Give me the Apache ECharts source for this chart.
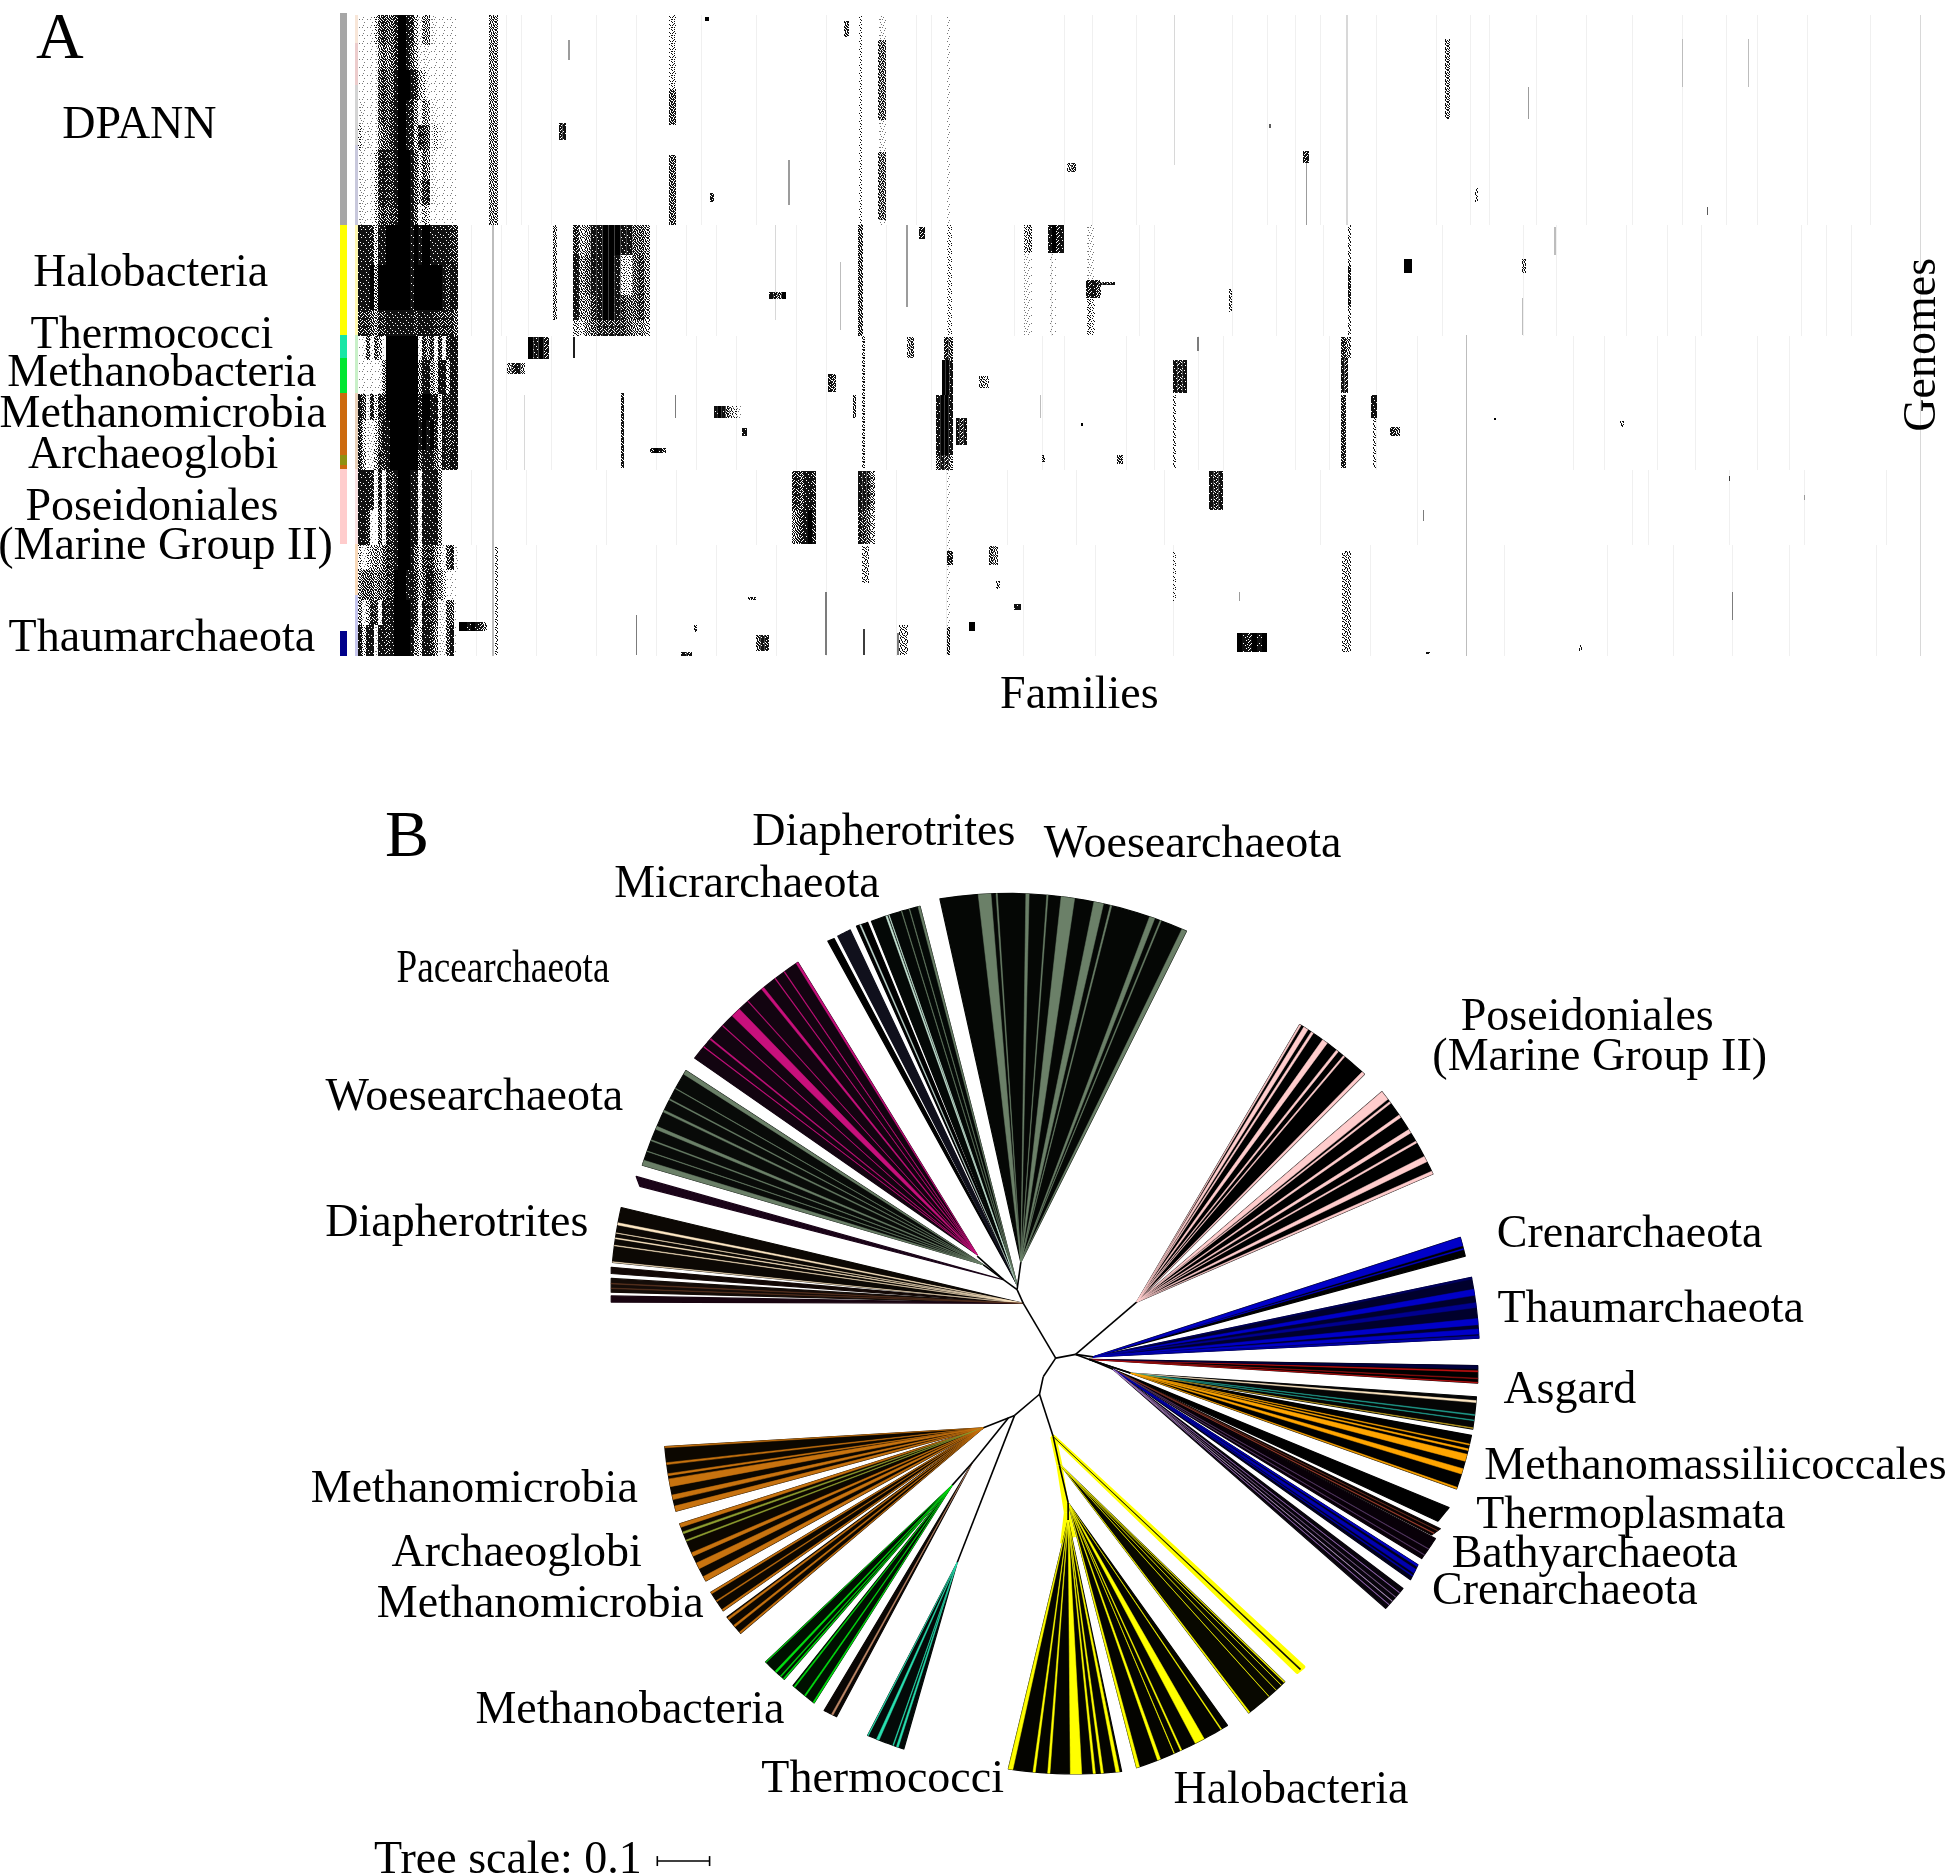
<!DOCTYPE html>
<html>
<head>
<meta charset="utf-8">
<title>Archaea families and tree</title>
<style>
html, body { margin: 0; padding: 0; background: #fff; }
#chart { width: 1952px; height: 1876px; }
</style>
<script src="https://cdn.jsdelivr.net/npm/echarts@6/dist/echarts.min.js"></script>
</head>
<body>
<div id="chart"></div>
<script>
// ---------- panel A: presence of families (x) in genomes (y) ----------
// darkness 0..9: share of black pixels in a patch, and the grey used for hair-thin streaks
const levelShare = [0, .05, .12, .22, .35, .48, .62, .78, .92, 1]
const levelColors = ['#ffffff', '#f0f0f0', '#d8d8d8', '#bdbdbd', '#9c9c9c', '#7c7c7c', '#5c5c5c', '#3c3c3c', '#1e1e1e', '#000000']
// fixed order in which a patch's pixels turn black
const grainOrder = [
  37, 5, 58, 21, 44, 12, 62, 29,
  14, 52, 31, 2, 55, 26, 8, 47,
  60, 23, 41, 17, 35, 50, 19, 39,
  7, 34, 1, 63, 10, 28, 57, 3,
  46, 18, 54, 25, 42, 6, 33, 53,
  30, 61, 9, 38, 16, 59, 22, 11,
  4, 43, 27, 49, 0, 36, 45, 24,
  56, 20, 13, 32, 40, 15, 48, 35
]

// [genome from, genome to, colour]
const genomeBars = [
  [-2, 210, '#a6a6a6'], [210, 320, '#ffff00'], [320, 343, '#19e6a5'], [343, 378, '#00e632'],
  [378, 440, '#cc6a0e'], [440, 450, '#8f9010'], [450, 454, '#cc6a0e'], [454, 529, '#ffcccc'], [616, 641, '#00008b']
]
const genomeStrip = [
  [0, 28, '#f8e6d8'], [28, 70, '#eccccc'], [70, 130, '#d4d4d4'], [130, 210, '#c8c8dc'], [210, 320, '#fff8b0'],
  [320, 378, '#c8f0c8'], [378, 454, '#e8d0b8'], [454, 529, '#f8e0e0'], [529, 580, '#f8d8b8'], [580, 641, '#c4c4ec']
]

// core families: 25 columns of 4 families each, from family 2
const coreRows = [
  [0, 30], [30, 55], [55, 85], [85, 110], [110, 135], [135, 165], [165, 190], [190, 210],
  [210, 250], [250, 295], [295, 321], [321, 345], [345, 379], [379, 405], [405, 435], [435, 455],
  [455, 495], [495, 530], [530, 555], [555, 585], [585, 610], [610, 641]
]
const coreLevels = [
  '1111367667998742552111111', '1111256567998642221111111', '1111267668999874321111111', '2111267678998752542211111',
  '3221256678998747762322111', '2111378778999863652111111', '2211378778999864772211111', '2211367677999862431111111',
  '8887388999999898998888877', '8889599999999899999998788', '7776577888888878888777776', '1261641999999992757272788',
  '1111125999999995885388488', '8627377999999997998838788', '7322368899999998989738778', '7422477899999996888648788',
  '8887272778999882888850000', '8871162778999882888850000', '3234546778999863777532672', '5666566779998874688653111',
  '5247728789999872877622661', '8388288789999853887522681'
]

// [family from, family to, genome from, genome to, darkness per column]
const familyBlocks = [
  [217, 294, 210, 240, '7458899988665'], [217, 294, 240, 280, '8568899833675'], [217, 294, 280, 305, '8557899876675'], [217, 294, 305, 321, '4356777776554'],
  [172, 193, 322, 344, '9897'], [151, 169, 348, 359, '5785'], [103, 131, 607, 616, '9989875'], [358, 385, 391, 403, '8986432'],
  [294, 310, 433, 438, '7986'], [386, 391, 413, 421, '8'], [436, 460, 456, 495, '776887'], [436, 460, 495, 529, '567897'],
  [502, 519, 456, 495, '8875'], [502, 519, 495, 529, '7764'], [580, 597, 380, 440, '8998'], [580, 597, 440, 455, '6875'],
  [586, 597, 345, 380, '998'], [600, 611, 403, 430, '878'], [588, 597, 322, 345, '76'], [413, 430, 277, 284, '8769'],
  [325, 336, 637, 641, '87'], [400, 413, 620, 636, '687'], [203, 210, 108, 125, '78'], [354, 358, 178, 187, '7'],
  [349, 353, 2, 6, '9'], [488, 493, 6, 22, '6'], [472, 480, 359, 377, '76'], [551, 558, 322, 343, '56'],
  [613, 619, 607, 616, '9'], [692, 708, 210, 238, '8978'], [668, 676, 210, 238, '45'], [730, 745, 265, 283, '786'],
  [730, 759, 267, 270, '8787878'], [731, 739, 283, 320, '43'], [711, 720, 148, 157, '56'], [947, 953, 136, 148, '7'],
  [1089, 1094, 24, 104, '5'], [1119, 1122, 173, 187, '4'], [1048, 1056, 244, 258, '9'], [1166, 1170, 244, 258, '5'],
  [817, 831, 345, 378, '878'], [985, 995, 322, 343, '75'], [985, 992, 343, 378, '87'], [985, 990, 380, 453, '7'],
  [1015, 1021, 380, 403, '8'], [1034, 1044, 412, 421, '76'], [853, 867, 456, 495, '878'], [881, 911, 618, 637, '987989'],
  [633, 642, 531, 550, '65'], [658, 665, 589, 595, '8'], [623, 633, 361, 373, '54'], [686, 689, 440, 447, '6'],
  [761, 767, 440, 449, '6'], [563, 569, 212, 224, '7'], [1264, 1268, 406, 412, '5'], [1138, 1140, 403, 405, '9'],
  [725, 727, 408, 411, '9'], [913, 915, 109, 113, '6'], [1070, 1074, 637, 639, '8'], [1223, 1226, 630, 636, '5'],
  [338, 341, 610, 617, '6'], [392, 400, 582, 585, '6'], [543, 552, 610, 640, '4'], [640, 644, 566, 574, '5']
]
// [family, width, genome from, genome to, darkness]
const familyStreaks = [
  [133, 9, 0, 210, 5], [313, 7, 0, 75, 3], [313, 7, 75, 110, 6], [313, 7, 140, 210, 6], [522, 8, 25, 105, 6],
  [522, 8, 137, 205, 6], [522, 8, 0, 210, 2], [503, 3, 0, 210, 3], [432, 2, 145, 190, 4], [502, 5, 210, 321, 6],
  [591, 4, 0, 210, 2], [591, 5, 210, 321, 3], [591, 3, 455, 641, 2], [212, 2, 25, 45, 4], [197, 4, 210, 305, 5],
  [136, 2, 210, 641, 3], [265, 3, 378, 453, 7], [319, 1, 380, 403, 5], [497, 3, 380, 403, 6], [506, 3, 321, 453, 5],
  [506, 7, 531, 568, 4], [591, 6, 536, 550, 7], [591, 3, 612, 640, 6], [507, 2, 614, 640, 7], [469, 2, 577, 640, 5],
  [280, 1, 600, 640, 5], [139, 3, 531, 640, 4], [550, 2, 210, 292, 4], [484, 1, 247, 315, 3], [419, 1, 210, 305, 2],
  [217, 2, 322, 343, 8], [541, 2, 618, 640, 5], [168, 1, 380, 455, 2], [668, 8, 238, 320, 2], [692, 8, 238, 320, 1],
  [731, 8, 210, 265, 2], [950, 1, 148, 210, 4], [1172, 1, 72, 104, 4], [992, 3, 210, 320, 4], [992, 3, 250, 292, 7],
  [817, 3, 380, 453, 4], [873, 3, 274, 297, 5], [818, 1, 0, 150, 2], [990, 2, 0, 210, 2], [1110, 1, 320, 641, 3],
  [986, 9, 536, 637, 4], [1017, 3, 403, 453, 4], [684, 1, 380, 403, 3], [817, 3, 536, 586, 3], [883, 1, 577, 586, 4],
  [841, 2, 322, 336, 5], [1376, 1, 577, 605, 5], [1326, 1, 24, 72, 3], [1392, 1, 24, 72, 3], [1067, 1, 495, 506, 5],
  [1166, 1, 283, 320, 3], [1198, 2, 212, 240, 3], [1448, 1, 480, 485, 4], [1373, 1, 461, 466, 7], [1351, 1, 192, 200, 6],
  [1564, 1, 0, 641, 2]
]
// faint single columns: [genome from, genome to, families]
const faintBands = [
  [0, 210, [150, 165, 195, 240, 280, 345, 400, 470, 560, 575, 708, 736, 780, 876, 911, 939, 964, 1020, 1080, 1114, 1133, 1180, 1230, 1276, 1326, 1370, 1401, 1451, 1514]],
  [210, 321, [115, 145, 172, 300, 330, 360, 440, 470, 530, 575, 658, 695, 783, 798, 876, 920, 939, 967, 1020, 1086, 1167, 1200, 1270, 1311, 1345, 1445, 1470, 1495]],
  [321, 455, [150, 195, 240, 300, 340, 380, 440, 470, 530, 575, 686, 708, 770, 798, 842, 867, 939, 973, 1020, 1061, 1110, 1217, 1248, 1301, 1339, 1401, 1433]],
  [455, 530, [115, 170, 250, 320, 400, 470, 540, 590, 651, 720, 808, 964, 1061, 1276, 1292, 1373, 1448, 1530]],
  [530, 641, [120, 180, 240, 300, 360, 420, 470, 540, 590, 667, 739, 817, 1014, 1110, 1148, 1251, 1317, 1376, 1433, 1520]]
]

// ---------- panel B: tree, in a layout scale of 1568 x 1507 ----------
const treeHub = [838, 1073]
const branchFrom = [
  [848, 1091], [848, 1091], [864, 1088], [864, 1088], [864, 1088], [875, 1092], [848, 1091], [838, 1106],
  [835, 1120], [835, 1120], [815, 1137], [815, 1137], [810, 1139], [781, 1175], [846, 1154], [851, 1177],
  [858, 1207], [822, 1047], [817, 1036], [817, 1036], [806, 1028], [806, 1028], [875, 1092], [875, 1092]
]
const branchTo = [
  [864, 1088], [822, 1047], [913, 1046], [878, 1090], [875, 1092], [908, 1103], [838, 1106], [835, 1120],
  [815, 1137], [846, 1154], [790, 1147], [769, 1255], [781, 1175], [765, 1193], [851, 1177], [858, 1207],
  [858, 1221], [817, 1036], [820, 1014], [806, 1028], [785, 1009], [790, 1016], [894, 1100], [908, 1103]
]
// yellow band under the Halobacteria stem
const haloFrom = [[846, 1154], [851, 1177], [857, 1215], [857, 1215]]
const haloTo = [[851, 1177], [857, 1215], [854, 1240], [862, 1235]]
const wedgeApex = [
  [820, 1014], [817, 1032], [817, 1032], [817, 1032], [817, 1032], [785, 1008], [790, 1016], [806, 1028],
  [822, 1047], [822, 1047], [822, 1047], [822, 1047],
  [913, 1046], [913, 1046], [878, 1090], [878, 1090], [875, 1092], [908, 1103], [908, 1103],
  [894, 1100], [894, 1100], [894, 1100], [894, 1100], [894, 1100],
  [846, 1154], [852, 1177], [858, 1207], [858, 1221], [769, 1255], [765, 1193], [765, 1193], [781, 1175],
  [790, 1147], [790, 1147], [790, 1147], [790, 1147]
]
const wedgeTipA = [
  [755, 722], [665, 756], [673, 752], [688, 744], [700, 740], [558, 850], [516, 936], [511, 945],
  [492, 1014], [491, 1018], [491, 1027], [491, 1041],
  [1044, 823], [1110, 877], [1173, 994], [1182, 1026], [1187, 1097], [1186, 1122], [1182, 1153],
  [1164, 1211], [1157, 1228], [1153, 1236], [1139, 1257], [1127, 1276],
  [1042, 1343], [1032, 1351], [986, 1386], [901, 1423], [726, 1405], [615, 1335], [637, 1354], [662, 1374],
  [534, 1162], [546, 1224], [571, 1279], [584, 1299]
]
const wedgeTipB = [
  [953, 748], [670, 754], [683, 747], [697, 741], [739, 728], [641, 773], [551, 860], [514, 953],
  [499, 970], [491, 1023], [491, 1038], [491, 1046],
  [1096, 863], [1151, 943], [1177, 1009], [1188, 1075], [1187, 1111], [1183, 1148], [1170, 1196],
  [1155, 1222], [1150, 1233], [1142, 1252], [1133, 1269], [1113, 1292],
  [1047, 1339], [1003, 1376], [913, 1420], [810, 1421], [697, 1394], [630, 1349], [654, 1368], [672, 1379],
  [543, 1214], [567, 1270], [581, 1294], [595, 1312]
]
const wedgeBase = [
  '#050705', '#000000', '#10101c', '#000000', '#040806', '#120410', '#080a08', '#1a0418',
  '#0c0804', '#120806', '#140c08', '#180410',
  '#000000', '#000000', '#000000', '#00002c', '#000000', '#050505', '#000000',
  '#000000', '#0a0202', '#080008', '#00001a', '#08040c',
  '#ffff00', '#080800', '#040400', '#040400', '#040a08', '#001000', '#001000', '#0a0604',
  '#0c0700', '#0c0700', '#0c0700', '#0c0700'
]
// stripes: [wedge, from, to, colour], from/to are parts of the wedge's arc
const sage = '#6b8068', magenta = '#c8107c', cream = '#ffe8c4', pink = '#ffcccc', blue = '#0000c8', amber = '#ffa500', yellow = '#ffff00', brown = '#c8730f', leaf = '#00e010', teal = '#29e0b0'
const stripes = [
  [0, .15, .2, sage], [0, .337, .35, sage], [0, .477, .531, sage], [0, .609, .648, sage], [0, .676, .682, sage], [0, .84, .862, sage], [0, .885, .89, sage], [0, .98, 1, sage], [0, .22, .225, sage], [0, .42, .425, sage],
  [3, .3, .4, '#c8e0d8'], [4, .3, .33, '#c8e8d8'], [4, .36, .37, '#c8e8d8'], [4, .62, .63, sage], [4, .78, .79, sage], [4, .96, 1, sage],
  [5, .4, .47, magenta], [5, .68, .7, magenta], [5, .17, .18, magenta], [5, .985, 1, magenta], [5, .1, .105, magenta], [5, .3, .305, magenta], [5, .55, .555, magenta], [5, .8, .805, magenta], [5, .88, .885, magenta],
  [6, 0, .05, sage], [6, .37, .4, sage], [6, .55, .57, sage], [6, .68, .69, sage], [6, .8, .805, sage], [6, .96, 1, sage], [6, .25, .26, sage], [6, .14, .145, sage],
  [8, .3, .31, cream], [8, .43, .445, cream], [8, .68, .72, cream], [8, 0, .01, cream], [8, .53, .535, cream],
  [10, .35, .4, '#5c3420'], [10, .7, .74, '#5c3420'],
  [12, 0, .02, pink], [12, .06, .12, pink], [12, .17, .2, pink], [12, .34, .41, pink], [12, .55, .58, pink], [12, .66, .68, pink], [12, .96, 1, pink],
  [13, 0, .1, pink], [13, .13, .15, pink], [13, .3, .33, pink], [13, .48, .52, pink], [13, .62, .64, pink], [13, .8, .86, pink], [13, .97, 1, pink],
  [14, 0, .45, blue], [14, .6, .65, blue],
  [15, 0, .03, '#000060'], [15, .2, .3, blue], [15, .42, .5, '#000090'], [15, .68, .78, blue], [15, .85, .93, blue], [15, .96, 1, '#0000a0'],
  [16, .3, .36, '#c01010'], [16, .72, .76, '#a01010'], [16, 0, .2, '#00003c'], [16, .96, 1, '#c01010'],
  [17, .12, .18, cream], [17, .55, .58, '#20a090'], [17, .72, .74, '#20a090'], [17, .96, .98, '#c0a020'],
  [18, .16, .18, amber], [18, .25, .28, amber], [18, .35, .48, amber], [18, .62, .72, amber], [18, .97, 1, amber],
  [20, .7, .76, '#a04030'], [20, .3, .33, '#703020'],
  [21, .5, .52, '#604070'], [21, .8, .82, '#604070'],
  [22, 0, .12, blue], [22, .3, .55, '#0000b0'], [22, .7, .76, '#0000a8'],
  [23, .2, .215, '#a070c0'], [23, .42, .435, '#806090'], [23, .62, .635, '#c0a0d0'], [23, .8, .815, '#a070c0'],
  [24, .42, .58, '#000000'],
  [25, 0, .02, yellow], [25, .1, .105, yellow], [25, .25, .255, yellow], [25, .45, .455, yellow], [25, .97, 1, yellow],
  [26, .27, .37, yellow], [26, .07, .08, yellow], [26, .52, .535, yellow], [26, .6, .605, yellow], [26, .75, .78, yellow], [26, .97, 1, yellow],
  [27, .02, .05, yellow], [27, .16, .18, yellow], [27, .23, .25, yellow], [27, .35, .45, yellow], [27, .63, .65, yellow], [27, .76, .78, yellow], [27, .96, 1, yellow],
  [28, .15, .2, teal], [28, .28, .3, teal], [28, .68, .75, teal], [28, .98, 1, teal],
  [29, 0, .03, leaf], [29, .52, .6, leaf], [29, .8, .84, leaf], [29, .95, 1, leaf],
  [30, .05, .1, leaf], [30, .55, .6, leaf], [30, .95, 1, leaf],
  [31, .6, .72, '#c08868'],
  [32, 0, .02, brown], [32, .25, .28, brown], [32, .42, .45, brown], [32, .5, .62, brown], [32, .75, .82, brown], [32, .92, 1, brown],
  [33, 0, .06, brown], [33, .14, .17, '#90a030'], [33, .28, .3, '#90a030'], [33, .5, .56, brown], [33, .68, .78, brown], [33, .92, 1, brown],
  [34, 0, .08, brown], [34, .92, 1, brown], [34, .45, .5, brown],
  [35, .05, .15, brown], [35, .5, .6, brown], [35, .92, 1, brown]
]
// [x, y]..[x, y] of the scale bar
const scaleBarFrom = [[528, 1495], [528, 1491], [570, 1491]]
const scaleBarTo = [[570, 1495], [528, 1499], [570, 1499]]

// ---------- text ----------
const labelText = [
  'A', 'DPANN', 'Halobacteria', 'Thermococci', 'Methanobacteria', 'Methanomicrobia', 'Archaeoglobi', 'Poseidoniales', '(Marine Group II)', 'Thaumarchaeota', 'Genomes', 'Families',
  'B', 'Diapherotrites', 'Woesearchaeota', 'Micrarchaeota', 'Pacearchaeota', 'Poseidoniales', '(Marine Group II)', 'Woesearchaeota', 'Diapherotrites', 'Crenarchaeota', 'Thaumarchaeota', 'Asgard',
  'Methanomassiliicoccales', 'Methanomicrobia', 'Thermoplasmata', 'Archaeoglobi', 'Bathyarchaeota', 'Crenarchaeota', 'Methanomicrobia', 'Methanobacteria', 'Thermococci', 'Halobacteria', 'Tree scale: 0.1'
]
const labelX = [48, 112, 121, 122, 130, 131, 123, 122, 133, 130, 1545, 867, 327, 710, 958, 600, 404, 1275, 1285, 381, 367, 1309, 1326, 1261, 1378, 381, 1310, 415, 1281, 1257, 434, 506, 709, 1037, 408]
const labelY = [33, 101, 220, 270, 300, 333, 366, 408, 439, 513, 277, 559, 674, 669, 679, 711, 779, 818, 850, 882, 983, 992, 1052, 1117, 1178, 1197, 1218, 1248, 1249, 1279, 1289, 1374, 1430, 1439, 1495]
const labelSize = [66, 46, 46, 46, 46, 46, 46, 46, 46, 46, 46, 46, 66, 46, 46, 46, 46, 46, 46, 46, 46, 46, 46, 46, 46, 46, 46, 46, 46, 46, 46, 46, 46, 46, 46]

// ---------- rows for the series ----------
const cellRows = []
function pushCells(f0, f1, g0, g1, levels) {
  const w = (f1 - f0) / levels.length
  for (let i = 0; i < levels.length; i++) {
    if (levels[i] !== '0') cellRows.push([f0 + i * w, f0 + (i + 1) * w, g0, g1, +levels[i]])
  }
}
faintBands.forEach(b => { b[2].forEach(f => pushCells(f, f + 1, b[0], b[1], '1')) })
familyStreaks.forEach(s => { pushCells(s[0], s[0] + s[1], s[2], s[3], String(s[4])) })
coreRows.forEach((r, i) => { pushCells(2, 102, r[0], r[1], coreLevels[i]) })
familyBlocks.forEach(b => { pushCells(b[0], b[1], b[2], b[3], b[4]) })

// grain tile per darkness level, so patches look stippled like the original bitmap
const grainTiles = levelShare.map((share, level) => {
  const c = document.createElement('canvas')
  c.width = c.height = 8
  const ctx = c.getContext('2d')
  ctx.fillStyle = level <= 2 ? '#777' : '#111'
  grainOrder.forEach((v, i) => {
    if (v / 64 < share) ctx.fillRect(i % 8, Math.floor(i / 8), 1, 1)
  })
  return c
})

// a wedge fans out from its apex to an arc round the hub
function arcPoint(w, t) {
  const a = wedgeTipA[w], b = wedgeTipB[w]
  const a0 = Math.atan2(a[1] - treeHub[1], a[0] - treeHub[0]), r0 = Math.hypot(a[0] - treeHub[0], a[1] - treeHub[1])
  const a1 = Math.atan2(b[1] - treeHub[1], b[0] - treeHub[0]), r1 = Math.hypot(b[0] - treeHub[0], b[1] - treeHub[1])
  let d = a1 - a0
  if (d > Math.PI) d -= 2 * Math.PI
  if (d < -Math.PI) d += 2 * Math.PI
  const ang = a0 + d * t, r = r0 + (r1 - r0) * t
  return [treeHub[0] + r * Math.cos(ang), treeHub[1] + r * Math.sin(ang)]
}
const wedgeRows = []
wedgeApex.forEach((p, w) => wedgeRows.push([w, 0, 1, wedgeBase[w]]))
stripes.forEach(s => wedgeRows.push(s))

const segmentFrom = branchFrom.concat(scaleBarFrom)
const segmentTo = branchTo.concat(scaleBarTo)

var myChart = echarts.init(document.getElementById('chart'))
var option = {
  animation: false,
  backgroundColor: '#fff',
  grid: [
    { left: 340, top: 15, width: 1582, height: 641, containLabel: false },
    { left: 0, top: 0, width: 1952, height: 1876, containLabel: false }
  ],
  xAxis: [
    { type: 'value', gridIndex: 0, min: -16, max: 1566, show: false },
    { type: 'value', gridIndex: 1, min: 0, max: 1568, show: false }
  ],
  yAxis: [
    { type: 'value', gridIndex: 0, min: 0, max: 641, inverse: true, show: false },
    { type: 'value', gridIndex: 1, min: 0, max: 1507, inverse: true, show: false }
  ],
  series: [
    {
      type: 'custom', xAxisIndex: 0, yAxisIndex: 0, silent: true, clip: false,
      data: cellRows,
      renderItem: function (params, api) {
        const a = api.coord([api.value(0), api.value(2)])
        const b = api.coord([api.value(1), api.value(3)])
        const level = api.value(4)
        const thin = b[0] - a[0] <= 2
        const fill = thin || level === 9 ? levelColors[level] : { image: grainTiles[level], repeat: 'repeat' }
        return { type: 'rect', shape: { x: a[0], y: a[1], width: b[0] - a[0], height: b[1] - a[1] }, style: { fill: fill } }
      }
    },
    {
      type: 'custom', xAxisIndex: 0, yAxisIndex: 0, silent: true, clip: false,
      data: genomeBars.map(b => [-16, -9, b[0], b[1]]).concat(genomeStrip.map(b => [-1, 2, b[0], b[1]])),
      renderItem: function (params, api) {
        const all = genomeBars.concat(genomeStrip)
        const a = api.coord([api.value(0), api.value(2)])
        const b = api.coord([api.value(1), api.value(3)])
        return { type: 'rect', shape: { x: a[0], y: a[1], width: b[0] - a[0], height: b[1] - a[1] }, style: { fill: all[params.dataIndex][2] } }
      }
    },
    {
      type: 'custom', xAxisIndex: 1, yAxisIndex: 1, silent: true, clip: false,
      data: haloFrom.map((p, i) => [p[0], p[1], haloTo[i][0], haloTo[i][1]]),
      renderItem: function (params, api) {
        const a = api.coord([api.value(0), api.value(1)])
        const b = api.coord([api.value(2), api.value(3)])
        return { type: 'line', shape: { x1: a[0], y1: a[1], x2: b[0], y2: b[1] }, style: { stroke: '#ffff00', lineWidth: 6 } }
      }
    },
    {
      type: 'custom', xAxisIndex: 1, yAxisIndex: 1, silent: true, clip: false,
      data: wedgeRows.map((r, i) => [r[0], r[1], r[2], i]),
      renderItem: function (params, api) {
        const w = api.value(0), t0 = api.value(1), t1 = api.value(2)
        const pts = [api.coord(wedgeApex[w])]
        const steps = Math.max(1, Math.ceil((t1 - t0) * 14))
        for (let i = 0; i <= steps; i++) pts.push(api.coord(arcPoint(w, t0 + (t1 - t0) * i / steps)))
        const color = wedgeRows[params.dataIndex][3]
        const isBase = t0 === 0 && t1 === 1
        return {
          type: 'polygon', shape: { points: pts },
          style: { fill: color, stroke: color, lineWidth: isBase && color === '#ffff00' ? 4 : (isBase ? 1.2 : 0.5), lineJoin: 'round' }
        }
      }
    },
    {
      type: 'custom', xAxisIndex: 1, yAxisIndex: 1, silent: true, clip: false,
      data: segmentFrom.map((p, i) => [p[0], p[1], segmentTo[i][0], segmentTo[i][1]]),
      renderItem: function (params, api) {
        const a = api.coord([api.value(0), api.value(1)])
        const b = api.coord([api.value(2), api.value(3)])
        return { type: 'line', shape: { x1: a[0], y1: a[1], x2: b[0], y2: b[1] }, style: { stroke: '#000', lineWidth: 1.6 } }
      }
    },
    {
      type: 'custom', xAxisIndex: 1, yAxisIndex: 1, silent: true, clip: false,
      data: labelText.map((t, i) => [labelX[i], labelY[i]]),
      renderItem: function (params, api) {
        const i = params.dataIndex
        const p = api.coord([api.value(0), api.value(1)])
        const text = labelText[i]
        return {
          type: 'text', x: p[0], y: p[1],
          rotation: text === 'Genomes' ? Math.PI / 2 : 0,
          scaleX: text === 'Pacearchaeota' ? 0.81 : 1,
          style: { text: text, fill: '#000', fontFamily: 'Liberation Serif', fontSize: labelSize[i], align: 'center', verticalAlign: 'middle' }
        }
      }
    }
  ]
}
myChart.setOption(option)
</script>
</body>
</html>
